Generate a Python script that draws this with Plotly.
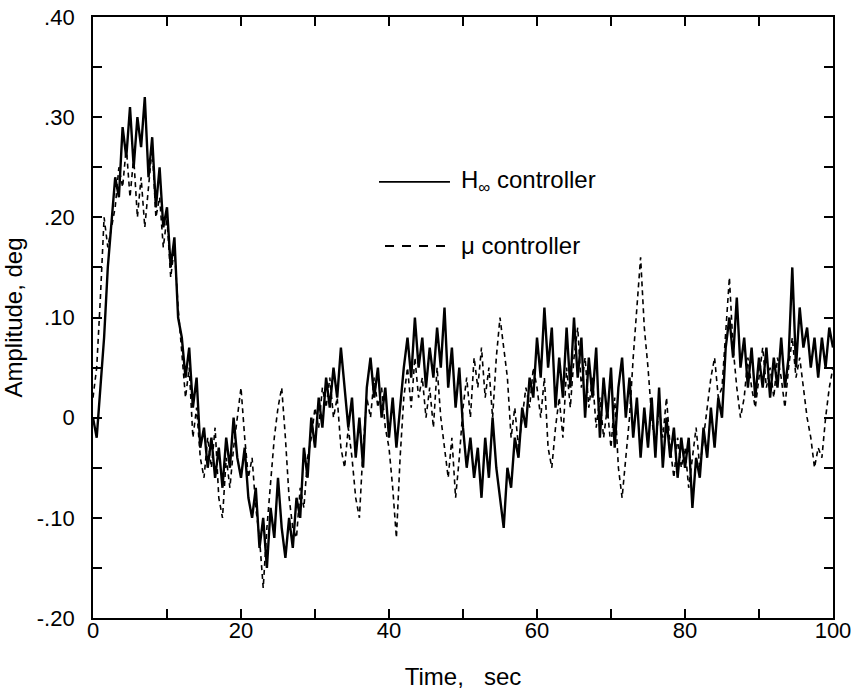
import plotly.graph_objects as go

DT = 0.5  # sample interval, sec

h_inf = [
    0.00, -0.02, 0.03, 0.08, 0.15, 0.20, 0.24, 0.22, 0.29, 0.26,
    0.31, 0.25, 0.30, 0.27, 0.32, 0.24, 0.28, 0.21, 0.25, 0.19,
    0.21, 0.15, 0.18, 0.10, 0.08, 0.04, 0.07, 0.01, 0.04, -0.03,
    -0.01, -0.05, -0.02, -0.06, -0.03, -0.07, -0.02, -0.05, 0.00, -0.04,
    -0.06, -0.03, -0.08, -0.10, -0.07, -0.13, -0.10, -0.15, -0.09, -0.12,
    -0.06, -0.11, -0.14, -0.10, -0.13, -0.08, -0.10, -0.03, -0.06, 0.00,
    -0.03, 0.02, -0.01, 0.04, 0.01, 0.05, 0.02, 0.07, 0.03, -0.01,
    0.02, -0.04, 0.00, -0.05, 0.03, 0.06, 0.02, 0.05, 0.00, 0.03,
    -0.02, 0.02, -0.03, 0.01, 0.05, 0.08, 0.04, 0.10, 0.05, 0.08,
    0.03, 0.07, 0.04, 0.09, 0.05, 0.11, 0.03, 0.07, 0.01, 0.05,
    -0.01, -0.05, -0.02, -0.06, -0.03, -0.08, -0.02, -0.06, 0.00, -0.05,
    -0.08, -0.11, -0.05, -0.07, -0.02, -0.04, 0.01, -0.01, 0.04, 0.02,
    0.08, 0.04, 0.11, 0.05, 0.09, 0.01, 0.06, 0.02, 0.09, 0.03,
    0.10, 0.04, 0.08, 0.00, 0.06, 0.02, 0.07, -0.02, 0.04, 0.00,
    0.05, -0.03, 0.03, 0.06, 0.00, 0.04, -0.02, 0.02, -0.04, 0.01,
    -0.03, 0.02, -0.04, 0.03, -0.05, 0.00, -0.04, -0.01, -0.06, -0.02,
    -0.05, -0.02, -0.09, -0.04, -0.06, -0.01, -0.04, 0.01, -0.03, 0.02,
    0.00, 0.07, 0.10, 0.06, 0.12, 0.05, 0.08, 0.03, 0.07, 0.02,
    0.06, 0.03, 0.07, 0.02, 0.06, 0.03, 0.08, 0.03, 0.06, 0.15,
    0.05, 0.11, 0.07, 0.09, 0.05, 0.08, 0.04, 0.08, 0.05, 0.09,
    0.07,
]

mu = [
    0.02, 0.05, 0.12, 0.20, 0.17, 0.19, 0.21, 0.25, 0.23, 0.27,
    0.22, 0.26, 0.20, 0.24, 0.19, 0.23, 0.27, 0.20, 0.22, 0.17,
    0.20, 0.14, 0.17, 0.11, 0.06, 0.02, 0.05, -0.02, 0.01, -0.04,
    -0.06, -0.02, -0.05, -0.01, -0.08, -0.10, -0.04, -0.07, -0.03, 0.00,
    0.03, -0.02, -0.06, -0.04, -0.09, -0.12, -0.17, -0.11, -0.06, -0.02,
    0.01, 0.03, -0.02, -0.08, -0.11, -0.12, -0.07, -0.09, -0.04, -0.02,
    0.01, -0.01, 0.03, 0.01, 0.04, 0.00, 0.02, -0.03, -0.05, -0.01,
    -0.04, -0.08, -0.10, -0.03, 0.02, 0.00, 0.04, 0.01, 0.03, -0.01,
    -0.03, -0.07, -0.12, -0.04, 0.02, 0.05, 0.01, 0.06, 0.02, 0.04,
    0.00, 0.03, -0.01, 0.05, 0.00, -0.03, -0.06, -0.02, -0.08, -0.04,
    0.01, 0.04, 0.00, 0.06, 0.03, 0.07, 0.02, 0.05, 0.00, 0.06,
    0.10, 0.07, 0.04, -0.02, 0.01, -0.03, 0.00, 0.03, 0.01, 0.05,
    0.03, 0.00, 0.04, -0.03, -0.05, -0.01, 0.02, -0.02, 0.05, 0.01,
    0.06, 0.09, 0.03, 0.06, 0.01, 0.04, -0.01, 0.02, -0.02, 0.01,
    -0.03, 0.02, -0.05, -0.08, -0.04, 0.00, 0.06, 0.11, 0.16, 0.09,
    0.05, 0.00, -0.03, 0.01, -0.02, 0.02, -0.03, -0.06, -0.02, -0.05,
    -0.03, -0.07, -0.04, -0.01, -0.05, -0.02, 0.01, 0.04, 0.06, 0.02,
    0.03, 0.08, 0.14, 0.07, 0.03, 0.00, 0.02, 0.06, 0.03, 0.01,
    0.04, 0.07, 0.03, 0.05, 0.02, 0.06, 0.04, 0.01, 0.05, 0.08,
    0.04, 0.06, 0.03, 0.00, -0.02, -0.05, -0.03, -0.04, 0.00, 0.03,
    0.05,
]

time = [i * DT for i in range(len(h_inf))]

series_names = ["H<sub>\u221e</sub> controller", "\u03bc controller"]

y_ticks = [-0.20, -0.10, 0.0, 0.10, 0.20, 0.30, 0.40]
y_labels = ["-.20", "-.10", "0", ".10", ".20", ".30", ".40"]
y_minor = [-0.15, -0.05, 0.05, 0.15, 0.25, 0.35]

FONT = "Liberation Sans, Arial, Helvetica, sans-serif"
NARROW = "Liberation Sans Narrow, Arial Narrow, Liberation Sans, Arial, sans-serif"

fig = go.Figure()
fig.add_trace(go.Scatter(
    x=time, y=h_inf, mode="lines", name=series_names[0],
    line=dict(color="black", width=2.4), showlegend=False,
))
fig.add_trace(go.Scatter(
    x=time, y=mu, mode="lines", name=series_names[1],
    line=dict(color="black", width=1.6, dash="5px,4px"), showlegend=False,
))

# in-plot key (drawn as a legend: sample line + label)
key_rows = [
    dict(y=0.7255, x0=0.3865, dash="solid", width=1.8),
    dict(y=0.619, x0=0.3946, dash="9px,8px", width=1.8),
]
for row, name in zip(key_rows, series_names):
    fig.add_shape(type="line", xref="paper", yref="paper",
                  x0=row["x0"], x1=0.4824, y0=row["y"], y1=row["y"],
                  line=dict(color="black", width=row["width"], dash=row["dash"]))
    fig.add_annotation(xref="paper", yref="paper", x=0.494, y=row["y"],
                       xanchor="left", yanchor="middle", text=name,
                       showarrow=False, font=dict(size=24, family=FONT, color="black"))

tick_style = dict(ticks="inside", ticklen=9, tickwidth=1.5, tickcolor="black")
minor_style = dict(ticks="inside", ticklen=9, tickwidth=1.5, tickcolor="black")

fig.update_layout(
    width=853, height=692,
    margin=dict(l=93, r=20, t=17, b=74),
    paper_bgcolor="white", plot_bgcolor="white",
    font=dict(family=FONT, size=20, color="black"),
    showlegend=False,
    xaxis=dict(
        range=[0, 100], tick0=0, dtick=20, **tick_style,
        minor=dict(dtick=10, **minor_style),
        showline=True, linecolor="black", linewidth=1.8, mirror="ticks",
        showgrid=False, zeroline=False, automargin=False,
        title=dict(text="Time,   sec", standoff=26, font=dict(size=24, family=FONT)),
        tickfont=dict(size=22, family=NARROW), ticklabelstandoff=-8,
        ticklabeloverflow="allow",
    ),
    yaxis=dict(
        range=[-0.20, 0.40], tickvals=y_ticks, ticktext=y_labels, **tick_style,
        minor=dict(tickvals=y_minor, **minor_style),
        showline=True, linecolor="black", linewidth=1.8, mirror="ticks",
        showgrid=False, zeroline=False, automargin=False,
        title=dict(text="Amplitude, deg", standoff=8, font=dict(size=24, family=FONT)),
        tickfont=dict(size=22, family=NARROW), ticklabelstandoff=12,
        ticklabeloverflow="allow",
    ),
)

fig.write_html("out.html", config={"displayModeBar": False},
               post_script="document.body.style.margin='0px';")
